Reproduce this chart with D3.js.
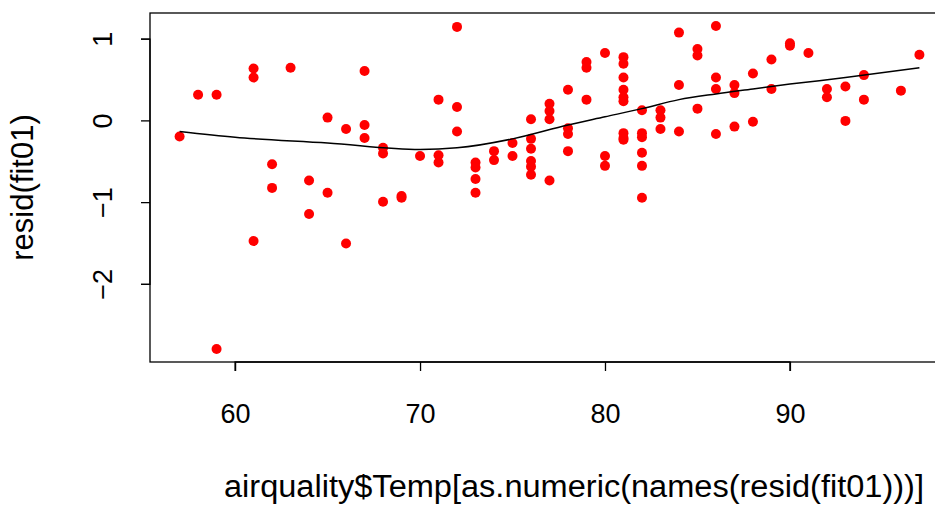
<!DOCTYPE html><html><head><meta charset="utf-8"><script src="https://d3js.org/d3.v7.min.js"></script>
<style>body{margin:0;background:#fff}text{font-family:"Liberation Sans",Arial,sans-serif}</style></head><body>
<script>
const temps=[57,58,59,59,61,61,61,62,62,63,64,64,65,65,66,66,67,67,67,68,68,68,69,69,70,71,71,71,72,72,72,73,73,73,73,74,74,75,75,76,76,76,76,76,76,77,77,77,77,78,78,78,78,79,79,79,80,80,80,81,81,81,81,81,81,81,81,81,82,82,82,82,82,82,83,83,83,84,84,84,85,85,85,86,86,86,86,87,87,87,88,88,89,89,90,90,91,92,92,93,93,94,94,96,97];
const resids=[-0.19,0.32,0.32,-2.79,0.64,0.53,-1.47,-0.53,-0.82,0.65,-0.73,-1.14,0.04,-0.88,-0.10,-1.50,0.61,-0.05,-0.21,-0.33,-0.40,-0.99,-0.92,-0.94,-0.43,0.26,-0.42,-0.51,1.15,0.17,-0.13,-0.51,-0.57,-0.71,-0.88,-0.37,-0.48,-0.27,-0.43,0.02,-0.22,-0.34,-0.49,-0.56,-0.66,0.21,0.12,0.02,-0.73,0.38,-0.09,-0.16,-0.37,0.72,0.65,0.26,0.83,-0.43,-0.55,0.78,0.70,0.53,0.38,0.29,0.24,-0.15,-0.21,-0.23,0.13,-0.15,-0.20,-0.39,-0.55,-0.94,0.13,0.04,-0.10,1.08,0.44,-0.13,0.88,0.80,0.15,1.16,0.53,0.39,-0.16,0.44,0.34,-0.07,0.58,-0.01,0.75,0.39,0.95,0.92,0.83,0.39,0.29,0.42,0.0,0.56,0.26,0.37,0.81];
const smoothX=[57,60,65,70,72,75,78,80,82,84,86,88,90,93,97];
const smoothY=[-0.13,-0.2,-0.27,-0.35,-0.33,-0.22,-0.05,0.05,0.15,0.26,0.33,0.39,0.45,0.53,0.65];
const xTicks=[60,70,80,90], yTicks=[-2,-1,0,1];
const W=935,H=506,L=150,R=949,T=13,B=362,FS=27,FT=31;
const svg=d3.select("body").append("svg").attr("width",W).attr("height",H);
const x=d3.scaleLinear().domain([55.4,98.6]).range([L,R]);
const y=d3.scaleLinear().domain([-2.95,1.32]).range([B,T]);
svg.append("rect").attr("x",L).attr("y",T).attr("width",R-L).attr("height",B-T).attr("fill","none").attr("stroke","#000").attr("stroke-width",1.3);
svg.selectAll("circle").data(temps).join("circle").attr("cx",d=>x(d)).attr("cy",(d,i)=>y(resids[i])).attr("r",5).attr("fill","red");
svg.append("path").attr("d",d3.line().x(d=>x(d)).y((d,i)=>y(smoothY[i])).curve(d3.curveMonotoneX)(smoothX)).attr("fill","none").attr("stroke","#000").attr("stroke-width",1.5);
const xa=svg.append("g").attr("transform",`translate(0,${B})`).call(d3.axisBottom(x).tickValues(xTicks).tickSize(9).tickPadding(0));
xa.select(".domain").attr("d",`M${x(60)},9V0H${x(90)}V9`).attr("stroke-width",1.3);
xa.selectAll("text").attr("dy",0).attr("y",61);
const ya=svg.append("g").attr("transform",`translate(${L},0)`).call(d3.axisLeft(y).tickValues(yTicks).tickSize(9).tickFormat(d=>d<0?"\u2212"+(-d):d));
ya.select(".domain").attr("d",`M-9,${y(-2)}H0V${y(1)}H-9`).attr("stroke-width",1.3);
ya.selectAll(".tick").attr("transform",null);
ya.selectAll(".tick line").attr("transform",d=>`translate(0,${y(d)})`);
ya.selectAll("text").attr("x",0).attr("y",0).attr("dy",0).attr("text-anchor","middle").attr("transform",d=>`translate(-38,${y(d)}) rotate(-90)`);
svg.selectAll(".tick text").attr("font-size",FS).attr("font-family","Liberation Sans, Arial").attr("fill","#000");
svg.selectAll(".tick line").attr("stroke-width",1.3);
svg.append("text").attr("x",574).attr("y",497).attr("text-anchor","middle").attr("font-size",FT).attr("textLength",700).attr("lengthAdjust","spacingAndGlyphs").text("airquality$Temp[as.numeric(names(resid(fit01)))]");
svg.append("text").attr("transform",`translate(33,${(T+B)/2}) rotate(-90)`).attr("text-anchor","middle").attr("font-size",FT).text("resid(fit01)");
</script></body></html>
